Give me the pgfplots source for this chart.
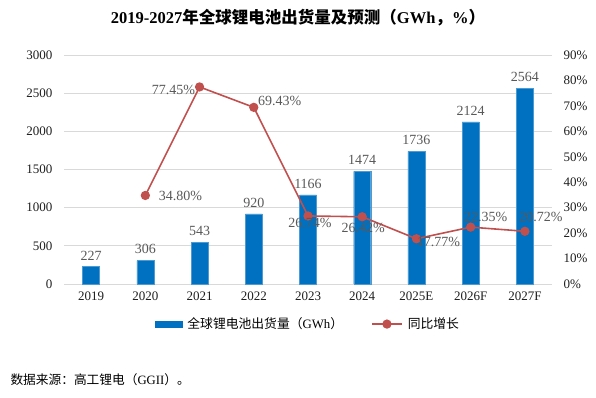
\documentclass[border=0pt]{standalone}
\usepackage{pgfplots}
\pgfplotsset{compat=1.18}
\usepackage{fontspec}
\setmainfont{Liberation Serif}
\newfontfamily\cjk{Noto Sans CJK SC}
\definecolor{barblue}{RGB}{0,112,192}
\definecolor{linered}{RGB}{192,80,77}
\definecolor{lblgray}{RGB}{89,89,89}
\definecolor{gridgray}{RGB}{217,217,217}
\definecolor{tickblack}{RGB}{30,30,30}

\pgfplotstableread{
x v
0 227
1 306
2 543
3 920
4 1166
5 1474
6 1736
7 2124
8 2564
}\bars

\pgfplotstableread{
x p dx dy
1 34.80 35 0
2 77.45 -26 -3
3 69.43 26 6
4 26.74 2 -7
5 26.42 1 -11
6 17.77 22 -3
7 22.35 15 10
8 20.72 16 14
}\growth

\begin{document}
\begin{tikzpicture}
\path[use as bounding box] (0pt,0pt) rectangle (596pt,398pt);
\node[font=\bfseries\fontsize{16.5}{19}\selectfont] at (298pt,380pt) {2019-2027{\cjk 年全球锂电池出货量及预测（}GWh{\cjk ，}\%{\cjk ）}};

\begin{axis}[
  at={(64pt,114pt)}, anchor=south west, scale only axis,
  width=488pt, height=229pt,
  xmin=-0.5, xmax=8.5, ymin=0, ymax=3000,
  ytick distance=500,
  xtick={0,...,8},
  xticklabels={2019,2020,2021,2022,2023,2024,2025E,2026F,2027F},
  axis x line*=bottom, axis y line*=left,
  x axis line style={draw=gridgray, -},
  y axis line style={draw=none},
  major tick length=0pt,
  ymajorgrids, grid style={gridgray, line width=0.8pt},
  tick label style={font=\fontsize{13}{15}\selectfont, color=tickblack},
  yticklabel shift=8pt, xticklabel shift=4pt,
  /pgf/number format/assume math mode=true,
  /pgf/number format/1000 sep={},
  clip=false,
]
\addplot[ybar, bar width=17pt, fill=barblue, draw=barblue!70!white,
  nodes near coords,
  nodes near coords style={font=\fontsize{14}{16}\selectfont, color=lblgray, yshift=3pt},
  /pgf/number format/1000 sep={}, /pgf/number format/assume math mode=true]
  table[x=x, y=v] {\bars};
\end{axis}

\begin{axis}[
  at={(64pt,114pt)}, anchor=south west, scale only axis,
  width=488pt, height=229pt,
  xmin=-0.5, xmax=8.5, ymin=0, ymax=90,
  ytick distance=10,
  axis y line*=right, axis x line=none,
  y axis line style={draw=none},
  major tick length=0pt,
  yticklabel={\pgfmathprintnumber{\tick}\%},
  tick label style={font=\fontsize{13}{15}\selectfont, color=tickblack},
  yticklabel shift=8pt,
  /pgf/number format/assume math mode=true,
  clip=false,
  legend columns=2,
  legend style={at={(0.5,-0.175)}, anchor=center, draw=none, fill=none,
    font=\fontsize{12.8}{14}\selectfont,
    /tikz/every odd column/.append style={column sep=3pt},
    /tikz/every even column/.append style={column sep=26pt}},
]
\addlegendimage{legend image code/.code={\fill[barblue] (0pt,-3pt) rectangle (27pt,3pt);}}
\addlegendentry{{\cjk 全球锂电池出货量（}GWh{\cjk ）}}
\addplot[linered, line width=1.6pt, mark=*, mark size=3.8pt,
  mark options={fill=linered, draw=linered},
  point meta=y,
  visualization depends on={\thisrow{dx} \as \dx},
  visualization depends on={\thisrow{dy} \as \dy},
  nodes near coords={\pgfmathprintnumber[fixed,fixed zerofill,precision=2]{\pgfplotspointmeta}\%},
  nodes near coords style={font=\fontsize{14}{16}\selectfont, color=lblgray, anchor=center, xshift=\dx pt, yshift=\dy pt},
  legend image code/.code={\draw[linered, line width=1.6pt] (0pt,0pt) -- (30pt,0pt); \fill[linered] (15pt,0pt) circle (3.8pt);}]
  table[x=x, y=p] {\growth};
\addlegendentry{\cjk 同比增长}
\end{axis}

\node[anchor=west, font=\fontsize{12.7}{14}\selectfont] at (7pt,18pt) {{\cjk 数据来源：高工锂电（}GGII{\cjk ）。}};
\end{tikzpicture}
\end{document}
